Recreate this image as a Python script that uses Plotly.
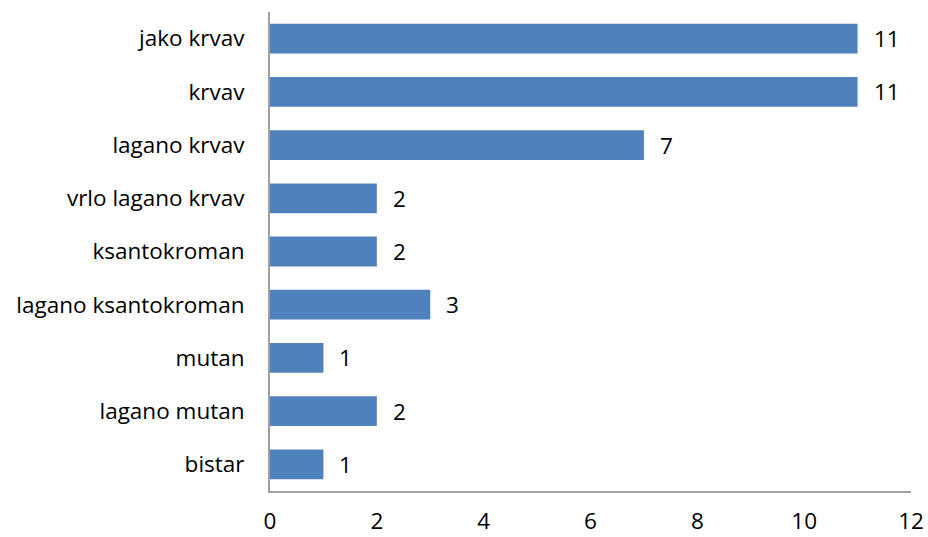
import plotly.graph_objects as go

categories = ["jako krvav", "krvav", "lagano krvav", "vrlo lagano krvav", "ksantokroman",
              "lagano ksantokroman", "mutan", "lagano mutan", "bistar"]
values = [11, 11, 7, 2, 2, 3, 1, 2, 1]
x_ticks = [0, 2, 4, 6, 8, 10, 12]

font = "'Open Sans', sans-serif"
fs = 22.5

fig = go.Figure(go.Bar(
    x=values, y=categories, orientation="h",
    marker=dict(color="#4F81BD", line=dict(width=0)),
    cliponaxis=False,
))

for c, v in zip(categories, values):
    fig.add_annotation(x=v, y=c, text=str(v), showarrow=False, xanchor="left",
                       xshift=14, font=dict(size=fs, color="#000000", family=font))

fig.update_layout(
    width=928, height=537,
    margin=dict(l=270, r=17, t=12, b=46, autoexpand=False),
    paper_bgcolor="white", plot_bgcolor="white",
    bargap=0.44,
    showlegend=False,
    font=dict(family=font, size=fs, color="#000000"),
    xaxis=dict(range=[0, 12], tickvals=x_ticks, showgrid=False, zeroline=False,
               showline=True, linecolor="#A0A0A0", linewidth=2, ticks="",
               automargin=False, ticklabelstandoff=9, ticklabeloverflow="allow",
               tickfont=dict(size=fs)),
    yaxis=dict(categoryorder="array", categoryarray=categories, autorange="reversed",
               showgrid=False, zeroline=False, showline=True, linecolor="#A0A0A0",
               linewidth=2, ticks="", automargin=False,
               ticklabelstandoff=19, tickfont=dict(size=fs)),
)

fig.write_html("out.html", config={"displayModeBar": False},
               post_script="document.body.style.margin='0';document.body.style.overflow='hidden';")
